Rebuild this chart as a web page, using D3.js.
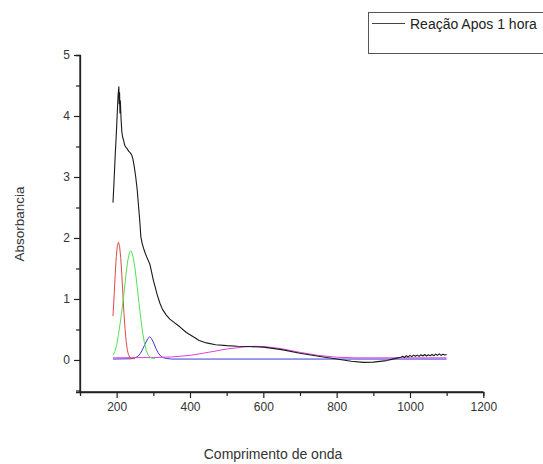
<!DOCTYPE html>
<html><head><meta charset="utf-8">
<script src="https://cdn.jsdelivr.net/npm/d3@7"></script>
<style>body{margin:0;background:#fff}svg{display:block;font-family:"Liberation Sans",Arial,sans-serif}</style>
</head><body>
<svg id="c" width="543" height="464"></svg>
<script>
// ---- data ----
const legendLabel = "Reação Apos 1 hora";
const xLabel = "Comprimento de onda";
const yLabel = "Absorbancia";
const xTicks = [200, 400, 600, 800, 1000, 1200];
const xMinorTicks = [300, 500, 700, 900, 1100];
const yTicks = [0, 1, 2, 3, 4, 5];
const yMinorTicks = [-0.5, 0.5, 1.5, 2.5, 3.5, 4.5];

const blackX = [190,193,196,199,202,204,206,207,208,209,210,212,214,216,219,222,226,229,233,237,241,244,248,252,256,260,263,266,270,274,278,282,287,291,295,300,305,310,318,325,335,345,360,373,390,409,425,445,470,500,530,560,600,650,700,750,800,840,873,900,936,950,964,975,980,985,990,995,1000,1005,1010,1015,1020,1025,1030,1035,1040,1045,1050,1055,1060,1065,1070,1075,1080,1085,1090,1095,1100];
const blackY = [2.58,2.95,3.35,3.7,4.1,4.35,4.48,4.2,4.38,4.05,4.25,3.95,3.75,3.66,3.6,3.52,3.48,3.46,3.42,3.4,3.36,3.3,3.17,3.0,2.79,2.5,2.28,2.02,1.9,1.82,1.75,1.69,1.62,1.56,1.45,1.31,1.2,1.08,0.93,0.83,0.74,0.67,0.6,0.54,0.45,0.38,0.32,0.28,0.25,0.235,0.225,0.22,0.21,0.17,0.11,0.06,0.015,-0.02,-0.04,-0.035,-0.01,0.01,0.03,0.045,0.06,0.04,0.07,0.05,0.075,0.055,0.08,0.06,0.08,0.06,0.085,0.065,0.09,0.065,0.085,0.07,0.09,0.07,0.095,0.075,0.1,0.075,0.095,0.08,0.09];

const redX = [190,193,196,199,202,205,208,211,214,217,220,223,226,229,232,236,240,250];
const redY = [0.72,1.05,1.4,1.7,1.88,1.93,1.86,1.68,1.4,1.08,0.76,0.5,0.3,0.17,0.09,0.04,0.025,0.02];

const greenX = [190,195,200,205,210,215,220,225,230,235,238,241,246,251,256,261,266,271,276,281,286,291,296,305];
const greenY = [0.08,0.14,0.24,0.42,0.62,0.85,1.1,1.38,1.62,1.76,1.79,1.77,1.66,1.46,1.2,0.93,0.67,0.44,0.27,0.15,0.08,0.045,0.03,0.02];

const blueX = [190,240,250,258,265,272,279,285,290,295,301,307,313,319,326,335,350,1100];
const blueY = [0.015,0.02,0.035,0.06,0.11,0.19,0.28,0.35,0.38,0.35,0.28,0.19,0.12,0.07,0.04,0.025,0.015,0.015];

const magentaX = [190,300,350,400,450,500,550,580,610,650,700,750,800,850,900,1100];
const magentaY = [0.035,0.04,0.05,0.075,0.125,0.18,0.215,0.225,0.215,0.185,0.125,0.075,0.045,0.035,0.035,0.035];

// ---- drawing ----
const svg = d3.select("#c");
const x = d3.scaleLinear().domain([100, 1200]).range([80, 483.3]);
const y = d3.scaleLinear().domain([-0.525, 5]).range([392, 55]);
const ink = "#222";

function series(xs, ys, color, w) {
  const pts = xs.map((v, i) => [v, ys[i]]);
  svg.append("path").datum(pts)
    .attr("fill", "none").attr("stroke", color).attr("stroke-width", w)
    .attr("stroke-linejoin", "round")
    .attr("d", d3.line().x(d => x(d[0])).y(d => y(d[1])));
}
series(blueX, blueY, "#3a3ad8", 1);
series(magentaX, magentaY, "#e040e0", 1);
series(redX, redY, "#e04848", 1);
series(greenX, greenY, "#55e055", 1);
series(blackX, blackY, "#1a1a1a", 1.1);

// axes
const xAxis = svg.append("g").attr("transform", "translate(0,392)")
  .call(d3.axisBottom(x).tickValues(xTicks).tickSize(6).tickPadding(4).tickFormat(d3.format("d")));
svg.append("g").attr("transform", "translate(0,392)")
  .call(d3.axisBottom(x).tickValues(xMinorTicks).tickSize(4).tickFormat(""));
const yAxis = svg.append("g").attr("transform", "translate(80,0)")
  .call(d3.axisLeft(y).tickValues(yTicks).tickSize(6).tickPadding(4).tickFormat(d3.format("d")));
svg.append("g").attr("transform", "translate(80,0)")
  .call(d3.axisLeft(y).tickValues(yMinorTicks).tickSize(4).tickFormat(""));
svg.selectAll(".domain").attr("stroke", ink).attr("stroke-width", 1.3);
svg.selectAll(".tick line").attr("stroke", ink).attr("stroke-width", 1.2);
svg.selectAll(".tick text").attr("fill", "#333").style("font-size", "12px").style("font-family", "'Liberation Sans',Arial,sans-serif");
// remove outer ticks from domain paths
svg.selectAll(".domain").each(function(){ });
xAxis.select(".domain").attr("d", "M80,0H483.3");
yAxis.select(".domain").attr("d", "M0,392V55");
svg.selectAll("g").filter(function(){return !d3.select(this).select(".domain").empty();})
  .select(".domain").filter(function(){return this.getAttribute("d").indexOf("H")<0 && this.getAttribute("d").indexOf("V")<0 || false;});

// axis labels
svg.append("text").attr("x", 273).attr("y", 459).attr("text-anchor", "middle")
  .attr("fill", "#333").style("font-size", "14px").text(xLabel);
svg.append("text").attr("transform", "translate(24,224) rotate(-90)").attr("text-anchor", "middle")
  .attr("fill", "#333").style("font-size", "13.5px").text(yLabel);

// legend
svg.append("rect").attr("x", 368.5).attr("y", 12.5).attr("width", 200).attr("height", 41)
  .attr("fill", "#fff").attr("stroke", "#555").attr("stroke-width", 1);
svg.append("line").attr("x1", 372).attr("x2", 405).attr("y1", 23.5).attr("y2", 23.5)
  .attr("stroke", "#444").attr("stroke-width", 1);
svg.append("text").attr("x", 410).attr("y", 29).attr("fill", "#222")
  .style("font-size", "14px").text(legendLabel);
</script>
</body></html>
